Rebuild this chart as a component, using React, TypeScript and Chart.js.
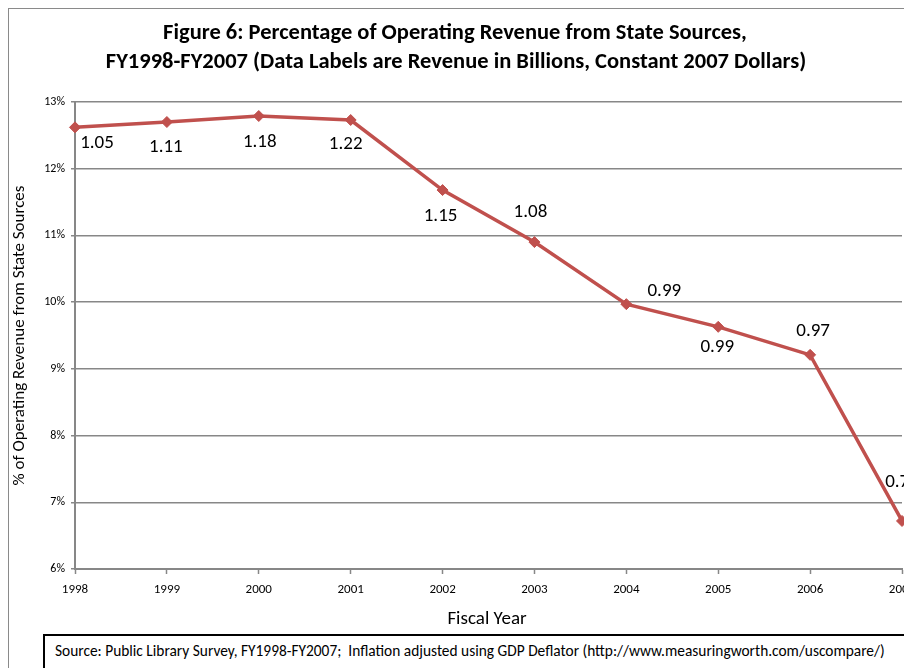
import { useEffect, useRef } from "react";
import { Chart, registerables } from "chart.js";

Chart.register(...registerables);

const fiscalYears = ["1998", "1999", "2000", "2001", "2002", "2003", "2004", "2005", "2006", "2007"];
const statePercent = [12.62, 12.7, 12.79, 12.73, 11.68, 10.9, 9.97, 9.63, 9.21, 6.72];
const revenueBillions = ["1.05", "1.11", "1.18", "1.22", "1.15", "1.08", "0.99", "0.99", "0.97", "0.74"];
const yMin = 6;
const yMax = 13;
// label placement offsets [dx, dy] relative to each point
const labelOffsets: [number, number][] = [
  [22, 16], [-1, 25], [1, 26], [-5, 24], [-2, 26], [-4, -30], [38, -13], [-1, 20], [3, -24], [0, -39],
];
const titleLines = [
  "Figure 6: Percentage of Operating Revenue from State Sources,",
  "FY1998-FY2007 (Data Labels are Revenue in Billions, Constant 2007 Dollars)",
];
const xTitle = "Fiscal Year";
const yTitle = "% of Operating Revenue from State Sources";
const sourceNote =
  "Source: Public Library Survey, FY1998-FY2007;  Inflation adjusted using GDP Deflator (http://www.measuringworth.com/uscompare/)";

const FONT = "Carlito, Lato, 'Open Sans', sans-serif";
const CW = 950;
const CH = 680;

export default function App() {
  const ref = useRef<HTMLCanvasElement | null>(null);

  useEffect(() => {
    document.body.style.overflow = "hidden";
    const canvas = ref.current;
    if (!canvas) return;

    const overlay = {
      id: "overlay",
      afterDatasetsDraw(chart: any) {
        const ctx = chart.ctx;
        const meta = chart.getDatasetMeta(0);
        ctx.save();
        ctx.fillStyle = "#000";
        ctx.font = `19px ${FONT}`;
        ctx.textAlign = "center";
        ctx.textBaseline = "middle";
        meta.data.forEach((pt: any, i: number) => {
          const [dx, dy] = labelOffsets[i];
          ctx.fillText(revenueBillions[i], pt.x + dx, pt.y + dy);
        });
        ctx.restore();
      },
      afterDraw(chart: any) {
        const ctx = chart.ctx;
        const area = chart.chartArea;
        ctx.save();
        ctx.fillStyle = "#000";
        ctx.textAlign = "center";
        ctx.textBaseline = "middle";
        ctx.font = `bold 22.5px ${FONT}`;
        ctx.fillText(titleLines[0], 446, 24);
        ctx.fillText(titleLines[1], 447, 53);
        ctx.font = `19px ${FONT}`;
        ctx.fillText(xTitle, 478, 610);
        ctx.translate(11, (area.top + area.bottom) / 2);
        ctx.rotate(-Math.PI / 2);
        ctx.font = `17px ${FONT}`;
        ctx.fillText(yTitle, 0, 0);
        ctx.restore();
      },
    };

    const chart = new Chart(canvas, {
      type: "line",
      data: {
        labels: fiscalYears,
        datasets: [
          {
            data: statePercent,
            borderColor: "#C0504D",
            backgroundColor: "#C0504D",
            borderWidth: 3.5,
            pointStyle: "rectRot",
            pointRadius: 5.5,
            pointBorderWidth: 1,
            pointBackgroundColor: "#C0504D",
            pointBorderColor: "#C0504D",
            tension: 0,
            clip: false as any,
          },
        ],
      },
      options: {
        responsive: false,
        animation: false,
        layout: { padding: { top: 93, left: 0, right: CW - 893, bottom: CH - 560 - 70 } },
        plugins: { legend: { display: false }, tooltip: { enabled: false }, title: { display: false } },
        scales: {
          x: {
            type: "category",
            offset: false,
            afterFit: (s: any) => {
              s.height = 70;
            },
            grid: {
              display: true,
              drawOnChartArea: false,
              drawTicks: true,
              tickLength: 5,
              tickColor: "#878787",
              tickWidth: 1.5,
            },
            border: { display: true, color: "#878787", width: 2 },
            ticks: { color: "#000", font: { family: FONT, size: 13 }, padding: 8, maxRotation: 0, autoSkip: false },
          },
          y: {
            min: yMin,
            max: yMax,
            afterFit: (s: any) => {
              s.width = 66;
            },
            grid: {
              color: "#878787",
              lineWidth: 1.5,
              drawTicks: true,
              tickLength: 4,
              tickColor: "#878787",
            },
            border: { display: true, color: "#878787", width: 2 },
            ticks: {
              stepSize: 1,
              color: "#000",
              font: { family: FONT, size: 12 },
              padding: 6,
              callback: (v: any) => `${v}%`,
            },
          },
        },
      },
      plugins: [overlay],
    });
    return () => chart.destroy();
  }, []);

  return (
    <div style={{ position: "relative", width: CW + 2, height: CH + 2 }}>
      <div
        style={{
          position: "absolute",
          left: 0,
          top: 0,
          width: CW + 40,
          height: CH + 40,
          border: "1px solid #8a8a8a",
          boxSizing: "border-box",
        }}
      />
      <canvas ref={ref} width={CW} height={CH} style={{ position: "absolute", left: 1, top: 1, width: CW, height: CH }} />
      <div
        style={{
          position: "absolute",
          left: 35,
          top: 626,
          width: 865,
          height: 60,
          border: "2px solid #000",
          boxSizing: "border-box",
          fontFamily: FONT,
          fontSize: 15.4,
          whiteSpace: "pre",
          paddingLeft: 10,
          paddingTop: 5,
          background: "#fff",
        }}
      >
        {sourceNote}
      </div>
    </div>
  );
}
